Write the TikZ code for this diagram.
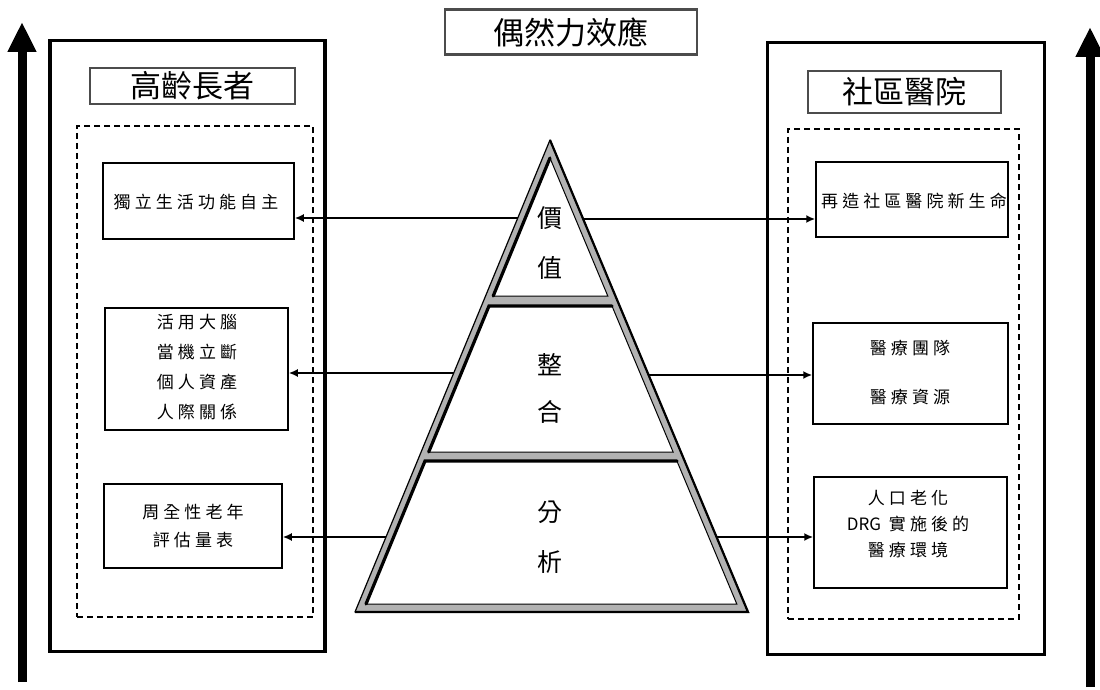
\documentclass[tikz,border=0pt]{standalone}
\usepackage{fontspec}
\setmainfont{Noto Sans CJK TC}
\newfontfamily\cjkw[LetterSpace=24]{Noto Sans CJK TC}
\newfontfamily\cjkn{Noto Sans CJK TC}
\usetikzlibrary{arrows.meta,calc}
\begin{document}
\begin{tikzpicture}[x=1pt,y=-1pt,
  outerbox/.style={draw, line width=3.5pt, inner sep=0pt},
  titlebox/.style={draw=black!70, line width=2.2pt, inner sep=0pt},
  titletext/.style={font=\fontsize{31}{31}\selectfont, inner sep=0pt},
  dashbox/.style={draw, line width=1.6pt, dash pattern=on 6pt off 4pt, inner sep=0pt},
  itembox/.style={draw, line width=1.5pt, inner sep=0pt},
  itemtext/.style={align=center, inner sep=0pt},
  conn/.style={line width=1.8pt, -{Latex[length=9pt,width=8pt]}},
  bigarrow/.style={line width=9pt, -{Triangle[length=30pt,width=27pt]}},
  pyrtext/.style={align=center, inner sep=0pt},
  secedge/.style={line width=3.2pt, line cap=round}
]
\useasboundingbox (0,0) rectangle (1100,690);

% side arrows
\coordinate (la0) at (22,682);
\coordinate (la1) at (22,22);
\coordinate (ra0) at (1090,687);
\coordinate (ra1) at (1090,27);
\draw[bigarrow] (la0) -- (la1);
\draw[bigarrow] (ra0) -- (ra1);

% top title
\node[titlebox, minimum width=252pt, minimum height=45pt] (top) at (571,32) {};
\node[titletext] (toptext) at (571,32) {偶然力效應};

% left column
\node[outerbox, minimum width=275pt, minimum height=611pt] (lout) at (187.5,346) {};
\node[titlebox, minimum width=205pt, minimum height=36pt] (ltitle) at (192.5,86) {};
\node[titletext] (ltitletext) at (192.5,86) {高齡長者};
\node[dashbox, minimum width=236pt, minimum height=491pt] (ldash) at (195,371.5) {};
\node[itembox, minimum width=191pt, minimum height=76pt] (l1) at (198.5,201) {};
\node[itemtext, font=\cjkw\fontsize{17}{30}\selectfont] (l1t) at (196,202) {獨立生活功能自主};
\node[itembox, minimum width=183pt, minimum height=122pt] (l2) at (196.5,369) {};
\node[itemtext, font=\cjkw\fontsize{17}{30}\selectfont] (l2t) at (197,367) {活用大腦\\當機立斷\\個人資產\\人際關係};
\node[itembox, minimum width=178pt, minimum height=84pt] (l3) at (193,526) {};
\node[itemtext, font=\cjkw\fontsize{17}{28}\selectfont] (l3t) at (193,526) {周全性老年\\評估量表};

% right column
\node[outerbox, minimum width=277pt, minimum height=612pt] (rout) at (906,348.5) {};
\node[titlebox, minimum width=193pt, minimum height=42pt] (rtitle) at (904.5,92) {};
\node[titletext] (rtitletext) at (904.5,92) {社區醫院};
\node[dashbox, minimum width=231pt, minimum height=490pt] (rdash) at (903.5,374) {};
\node[itembox, minimum width=192pt, minimum height=75pt] (r1) at (912,199.5) {};
\node[itemtext, font=\cjkw\fontsize{17}{30}\selectfont] (r1t) at (914,201) {再造社區醫院新生命};
\node[itembox, minimum width=195pt, minimum height=101pt] (r2) at (910.5,373.5) {};
\node[itemtext, font=\cjkw\fontsize{17}{49}\selectfont] (r2t) at (910,372.5) {醫療團隊\\醫療資源};
\node[itembox, minimum width=193pt, minimum height=111pt] (r3) at (910.5,532.5) {};
\node[itemtext, font=\cjkw\fontsize{17}{26}\selectfont] (r3t) at (908,524) {人口老化\\{\cjkn DRG} 實施後的\\醫療環境};

% pyramid
\coordinate (apex) at (550,140);
\coordinate (bl) at (355,612);
\coordinate (br) at (748,612);
\fill[black!30] (apex) -- (bl) -- (br) -- cycle;
\draw[line width=1.2pt, line join=round] (apex) -- (bl) -- (br) -- cycle;
\draw[line width=2.2pt] (bl) -- (br) -- (apex);
% section 1
\filldraw[fill=white, line width=1pt] (550,158) -- (493.2,296) -- (607.8,296) -- cycle;
\draw[secedge] (550,158) -- (493.2,296);
% section 2
\filldraw[fill=white, line width=1pt] (489,306) -- (612,306) -- (673.1,452) -- (428.7,452) -- cycle;
\draw[secedge] (428.7,452) -- (489,306) -- (612,306);
% section 3
\filldraw[fill=white, line width=1pt] (425,461) -- (676.9,461) -- (736.8,604) -- (366,604) -- cycle;
\draw[secedge] (366,604) -- (425,461) -- (676.9,461);

\node[pyrtext, font=\fontsize{25}{50}\selectfont] (p1) at (550,243) {價\\值};
\node[pyrtext, font=\fontsize{25}{47}\selectfont] (p2) at (550,388.5) {整\\合};
\node[pyrtext, font=\fontsize{25}{50}\selectfont] (p3) at (550,537) {分\\析};

% connectors
\coordinate (pL1) at ($(apex)!{(218-140)/472}!(bl)$);
\coordinate (pL2) at ($(apex)!{(373-140)/472}!(bl)$);
\coordinate (pL3) at ($(apex)!{(537-140)/472}!(bl)$);
\coordinate (pR1) at ($(apex)!{(219-140)/472}!(br)$);
\coordinate (pR2) at ($(apex)!{(375-140)/472}!(br)$);
\coordinate (pR3) at ($(apex)!{(537-140)/472}!(br)$);
\draw[conn] (pL1) -- (pL1 -| l1.east);
\draw[conn] (pL2) -- (pL2 -| l2.east);
\draw[conn] (pL3) -- (pL3 -| l3.east);
\draw[conn] (pR1) -- (pR1 -| r1.west);
\draw[conn] (pR2) -- (pR2 -| r2.west);
\draw[conn] (pR3) -- (pR3 -| r3.west);
\end{tikzpicture}
\end{document}
